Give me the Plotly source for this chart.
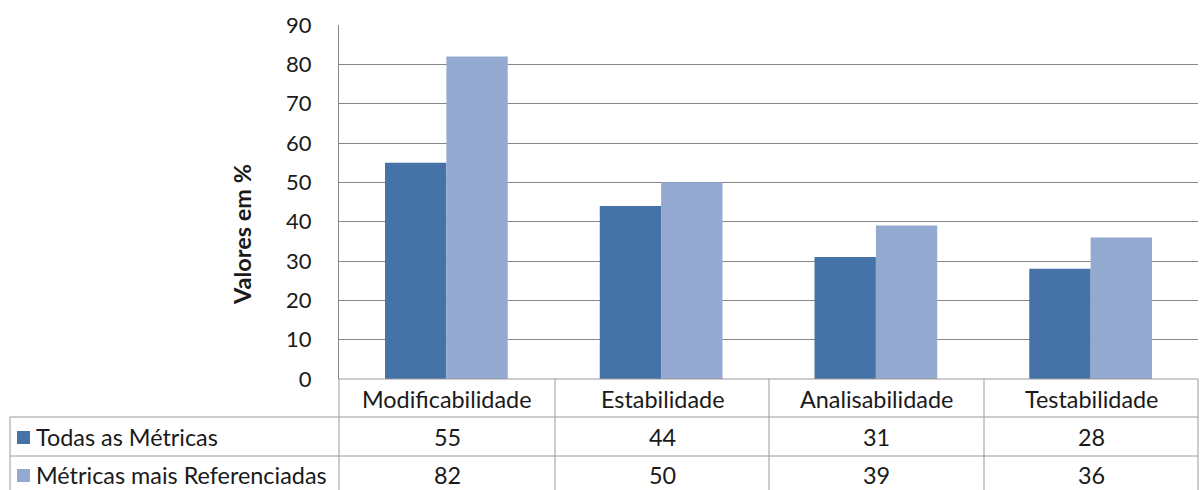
import plotly.graph_objects as go

categorias = ["Modificabilidade", "Estabilidade", "Analisabilidade", "Testabilidade"]
series_nomes = ["Todas as Métricas", "Métricas mais Referenciadas"]
todas = [55, 44, 31, 28]
referenciadas = [82, 50, 39, 36]
cores = ["#4572A7", "#94A9CF"]
y_ticks = [0, 10, 20, 30, 40, 50, 60, 70, 80, 90]

W, H = 1201, 490
L, R, T, B = 339, 1198, 25, 379  # plot area in pixels
FONT = "Lato"
FS = 23.4
GRID = "#868686"
TABLE = "#9a9a9a"
INK = "#1a1a1a"

fig = go.Figure()
for nome, vals, cor in zip(series_nomes, [todas, referenciadas], cores):
    fig.add_trace(go.Bar(x=categorias, y=vals, name=nome, marker_color=cor,
                         marker_line_width=0, showlegend=False))


# pixel position -> paper coordinates (relative to the plot area)
def px(x):
    return (x - L) / (R - L)


def py(y):
    return (B - y) / (B - T)


shapes = []
annotations = []
txt = dict(size=FS, color=INK, family=FONT)

# data table grid
row_y = [B, 417, 456, H]
row_mid = [399, 437, 475]
col_x = [L, 555, 769, 984, R]
shapes.append(dict(type="line", xref="paper", yref="paper", x0=px(L), x1=px(R),
                   y0=py(B), y1=py(B), line=dict(color=TABLE, width=1)))
for yy in row_y[1:3]:
    shapes.append(dict(type="line", xref="paper", yref="paper", x0=px(10), x1=px(R),
                       y0=py(yy), y1=py(yy), line=dict(color=TABLE, width=1)))
for xx in col_x:
    shapes.append(dict(type="line", xref="paper", yref="paper", x0=px(xx), x1=px(xx),
                       y0=py(B), y1=py(H + 5), line=dict(color=TABLE, width=1)))
shapes.append(dict(type="line", xref="paper", yref="paper", x0=px(10), x1=px(10),
                   y0=py(417), y1=py(H + 5), line=dict(color=TABLE, width=1)))

# header: category names
for i, c in enumerate(categorias):
    cx = (col_x[i] + col_x[i + 1]) / 2
    annotations.append(dict(x=px(cx), y=py(row_mid[0]), xref="paper", yref="paper", text=c,
                            showarrow=False, font=txt, xanchor="center", yanchor="middle"))

# series rows
for r, (nome, vals, cor) in enumerate(zip(series_nomes, [todas, referenciadas], cores)):
    cy = row_mid[r + 1]
    shapes.append(dict(type="rect", xref="paper", yref="paper",
                       x0=px(17), x1=px(30), y0=py(cy + 7), y1=py(cy - 6),
                       fillcolor=cor, line=dict(width=0)))
    annotations.append(dict(x=px(34), y=py(cy), xref="paper", yref="paper", text=nome,
                            showarrow=False, font=txt, xanchor="left", yanchor="middle"))
    for i, v in enumerate(vals):
        cx = (col_x[i] + col_x[i + 1]) / 2
        annotations.append(dict(x=px(cx), y=py(cy), xref="paper", yref="paper", text=str(v),
                                showarrow=False, font=txt, xanchor="center", yanchor="middle"))

# y axis title
annotations.append(dict(x=px(242), y=py(235), xref="paper", yref="paper", text="<b>Valores em %</b>",
                        showarrow=False, textangle=-90, font=dict(size=23.5, color=INK, family=FONT),
                        xanchor="center", yanchor="middle"))

fig.update_layout(
    width=W, height=H,
    margin=dict(l=L, r=W - R, t=T, b=H - B, pad=0),
    paper_bgcolor="white", plot_bgcolor="white",
    barmode="group", bargap=0.4286, bargroupgap=0,
    font=dict(family=FONT, size=FS, color=INK),
    xaxis=dict(showticklabels=False, showgrid=False, zeroline=False,
               showline=False, range=[-0.5, 3.5], fixedrange=True),
    yaxis=dict(range=[0, 90], tickvals=y_ticks, showgrid=True, gridcolor=GRID, gridwidth=1,
               zeroline=False, showline=True, linecolor=GRID, linewidth=1,
               ticks="", ticklabelstandoff=22, tickfont=dict(size=22, color=INK, family=FONT)),
    shapes=shapes, annotations=annotations,
)

fig.write_html("out.html")
